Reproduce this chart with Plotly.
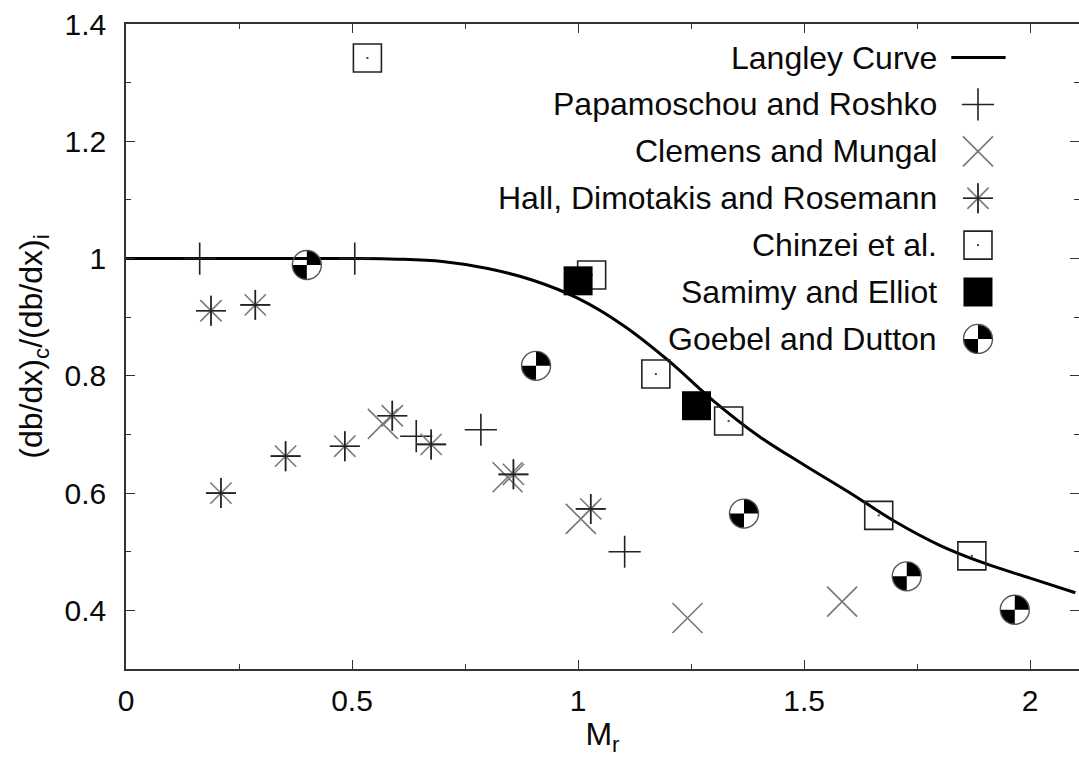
import plotly.graph_objects as go

# ---------------- data ----------------
langley_x = [0.0, 0.2, 0.4, 0.5, 0.6, 0.7, 0.8, 0.9, 1.0, 1.1, 1.2, 1.3, 1.4, 1.5, 1.6, 1.7, 1.8, 1.9, 2.0, 2.1]
langley_y = [1.0, 1.0, 1.0, 1.0, 0.999, 0.995, 0.983, 0.963, 0.932, 0.886, 0.826, 0.757, 0.697, 0.648, 0.601, 0.552, 0.511, 0.480, 0.455, 0.430]

pr_x = [0.163, 0.506, 0.642, 0.785, 1.103]
pr_y = [1.0, 1.0, 0.697, 0.708, 0.500]

cm_x = [0.568, 0.844, 1.006, 1.242, 1.584]
cm_y = [0.718, 0.627, 0.556, 0.387, 0.415]

hdr_x = [0.188, 0.286, 0.210, 0.353, 0.484, 0.589, 0.675, 0.857, 1.028]
hdr_y = [0.911, 0.921, 0.600, 0.663, 0.680, 0.732, 0.683, 0.632, 0.573]

ch_x = [0.534, 1.030, 1.172, 1.333, 1.665, 1.871]
ch_y = [1.342, 0.972, 0.803, 0.723, 0.562, 0.493]

se_x = [1.000, 1.262]
se_y = [0.962, 0.749]

gd_x = [0.400, 0.907, 1.367, 1.727, 1.966]
gd_y = [0.989, 0.817, 0.565, 0.458, 0.401]

series_names = ["Langley Curve", "Papamoschou and Roshko", "Clemens and Mungal",
                "Hall, Dimotakis and Rosemann", "Chinzei et al.", "Samimy and Elliot",
                "Goebel and Dutton"]

x_ticks = [0, 0.5, 1, 1.5, 2]
x_ticktext = ["0", "0.5", "1", "1.5", "2"]
y_ticks = [0.4, 0.6, 0.8, 1.0, 1.2, 1.4]
y_ticktext = ["0.4", "0.6", "0.8", "1", "1.2", "1.4"]

# ---------------- styles ----------------
FONT = "Liberation Sans, Arial, sans-serif"
TXT = "#0a0a0a"

# each series may be drawn as one or more stacked marker layers
styles = {
    "Papamoschou and Roshko": [dict(symbol="cross-thin-open", size=23, color="#222222", lw=1.6)],
    "Clemens and Mungal": [dict(symbol="x-thin-open", size=30, color="#777777", lw=1.6)],
    "Hall, Dimotakis and Rosemann": [dict(symbol="asterisk-open", size=25, color="#7a7a7a", lw=1.6),
                                     dict(symbol="cross-thin-open", size=21.4, color="#222222", lw=1.6)],
    "Chinzei et al.": [dict(symbol="square-open", size=28, color="#222222", lw=1.6),
                       dict(symbol="square", size=2, color="#444444", lw=0)],
    "Samimy and Elliot": [dict(symbol="square", size=29, color="#000000", lw=0)],
    "Goebel and Dutton": [dict(symbol="circle-open", size=29, color="#555555", lw=1.4)],
}
series_xy = {
    "Papamoschou and Roshko": (pr_x, pr_y),
    "Clemens and Mungal": (cm_x, cm_y),
    "Hall, Dimotakis and Rosemann": (hdr_x, hdr_y),
    "Chinzei et al.": (ch_x, ch_y),
    "Samimy and Elliot": (se_x, se_y),
    "Goebel and Dutton": (gd_x, gd_y),
}


def mk(st):
    return dict(symbol=st["symbol"], size=st["size"], color=st["color"],
                line=dict(color=st["color"], width=st["lw"]))


fig = go.Figure()

fig.add_trace(go.Scatter(x=langley_x, y=langley_y, mode="lines", name=series_names[0],
                         line=dict(color="#000000", width=3, shape="spline"),
                         showlegend=False, hoverinfo="skip"))

for name in series_names[1:]:
    xs, ys = series_xy[name]
    for j, st in enumerate(styles[name]):
        fig.add_trace(go.Scatter(x=xs, y=ys, mode="markers", name=name, marker=mk(st),
                                 showlegend=False, hoverinfo="x+y" if j == 0 else "skip"))

# quadrant fills for Goebel and Dutton symbol (top-right and bottom-left)
R = 14
K = 0.5523 * R
quad_path = (f"M0,0 L{R},0 C{R},{K} {K},{R} 0,{R} Z "
             f"M0,0 L{-R},0 C{-R},{-K} {-K},{-R} 0,{-R} Z")


def quad_shape(xref, yref, xa, ya):
    return dict(type="path", xref=xref, yref=yref, xsizemode="pixel", ysizemode="pixel",
                xanchor=xa, yanchor=ya, path=quad_path, fillcolor="#000000",
                line=dict(width=0), layer="above")


shapes = [quad_shape("x", "y", gx, gy) for gx, gy in zip(gd_x, gd_y)]

# ---------------- custom legend (text right-aligned, symbol on the right) ----------------
leg_top = 0.948
leg_step = 0.0727
leg_text_x = 0.8535
leg_sym_x = 0.894
annotations = []
for i, name in enumerate(series_names):
    yy = leg_top - i * leg_step
    annotations.append(dict(xref="paper", yref="paper", x=leg_text_x, y=yy, text=name,
                            showarrow=False, xanchor="right", yanchor="middle",
                            font=dict(family=FONT, size=32, color=TXT)))
    if i == 0:
        shapes.append(dict(type="line", xref="paper", yref="paper", x0=0.866, x1=0.923,
                           y0=yy, y1=yy, line=dict(color="#000000", width=3)))
    else:
        for st in styles[name]:
            fig.add_trace(go.Scatter(x=[leg_sym_x], y=[yy], xaxis="x2", yaxis="y2",
                                     mode="markers", showlegend=False, hoverinfo="skip",
                                     marker=mk(st)))
        if name == "Goebel and Dutton":
            shapes.append(quad_shape("paper", "paper", leg_sym_x, yy))

axis_common = dict(showline=True, linecolor="#333333", linewidth=1.5, mirror="ticks",
                   ticks="inside", ticklen=9, tickwidth=1.2, tickcolor="#333333",
                   showgrid=False, zeroline=False)

fig.update_layout(
    width=1079, height=757,
    margin=dict(l=126, r=0, t=24, b=88, autoexpand=False),
    paper_bgcolor="white", plot_bgcolor="white",
    showlegend=False,
    xaxis=dict(range=[0, 2.108], tickvals=x_ticks, ticktext=x_ticktext,
               tickfont=dict(family=FONT, size=30, color=TXT),
               minor=dict(ticks="inside", ticklen=5, dtick=0.25, tick0=0, tickcolor="#333333"),
               title=dict(text="M<sub>r</sub>", font=dict(family=FONT, size=32, color=TXT),
                          standoff=6),
               ticklabelstandoff=4,
               **axis_common),
    yaxis=dict(range=[0.3, 1.4], tickvals=y_ticks, ticktext=y_ticktext,
               tickfont=dict(family=FONT, size=30, color=TXT),
               minor=dict(ticks="inside", ticklen=5, dtick=0.1, tick0=0, tickcolor="#333333"),
               title=dict(text="(db/dx)<sub>c</sub>/(db/dx)<sub>i</sub>",
                          font=dict(family=FONT, size=32, color=TXT), standoff=12),
               ticklabelstandoff=12,
               **axis_common),
    xaxis2=dict(overlaying="x", range=[0, 1], visible=False, fixedrange=True),
    yaxis2=dict(overlaying="y", range=[0, 1], visible=False, fixedrange=True),
    shapes=shapes,
    annotations=annotations,
)

fig.write_html("out.html")
